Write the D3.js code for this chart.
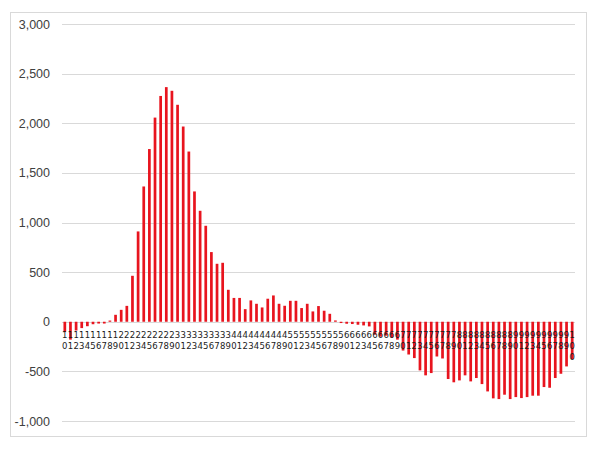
<!DOCTYPE html>
<html><head><meta charset="utf-8">
<script src="https://cdn.jsdelivr.net/npm/d3@7"></script>
<style>body{margin:0;background:#fff}svg{display:block}</style>
</head><body>
<svg id="c" width="600" height="450"></svg>
<script>
const categories = [10,11,12,13,14,15,16,17,18,19,20,21,22,23,24,25,26,27,28,29,30,31,32,33,34,35,36,37,38,39,40,41,42,43,44,45,46,47,48,49,50,51,52,53,54,55,56,57,58,59,60,61,62,63,64,65,66,67,68,69,70,71,72,73,74,75,76,77,78,79,80,81,82,83,84,85,86,87,88,89,90,91,92,93,94,95,96,97,98,99,100];
const values = [-104,-180,-88,-64,-45,-25,-18,-18,12,70,120,160,463,910,1363,1740,2057,2275,2364,2327,2186,1967,1715,1313,1118,967,702,584,594,322,240,240,127,215,181,144,232,265,181,161,211,211,138,181,104,158,111,80,13,-13,-20,-23,-30,-37,-47,-130,-150,-140,-160,-180,-290,-330,-366,-490,-540,-517,-350,-370,-577,-610,-591,-540,-601,-567,-628,-702,-772,-779,-735,-779,-759,-769,-759,-745,-745,-658,-665,-567,-524,-450,-376];
const yTicks = [-1000,-500,0,500,1000,1500,2000,2500,3000];

const svg = d3.select("#c");
svg.append("rect").attr("x",10.5).attr("y",12.5).attr("width",576).attr("height",424)
  .attr("fill","#fff").attr("stroke","#d9d9d9");

const x = d3.scaleBand().domain(categories).range([62,575]).paddingInner(0.52).paddingOuter(0.26);
const y = d3.scaleLinear().domain([-1000,3000]).range([421,24]);

// gridlines
svg.append("g").selectAll("line").data(yTicks).join("line")
  .attr("x1",62).attr("x2",575)
  .attr("y1",d=>Math.round(y(d))+0.5).attr("y2",d=>Math.round(y(d))+0.5)
  .attr("stroke","#d9d9d9").attr("stroke-width",1);

// y axis labels
const fmt = d3.format(",");
const yAxis = d3.axisLeft(y).tickValues(yTicks).tickSize(0).tickPadding(0)
  .tickFormat(d=>fmt(d).replace("\u2212","-"));
const ya = svg.append("g").attr("transform","translate(50,0)").call(yAxis);
ya.select(".domain").remove();
ya.selectAll("text").attr("font-family","Liberation Sans, Arial, sans-serif")
  .attr("font-size","12.5px").attr("fill","#404040");

// bars
svg.append("g").selectAll("rect").data(categories).join("rect")
  .attr("x",(d)=>x(d))
  .attr("width",x.bandwidth())
  .attr("y",(d,i)=>Math.min(y(values[i]),y(0)))
  .attr("height",(d,i)=>Math.abs(y(values[i])-y(0)))
  .attr("fill","#e8141e");

// category labels (wrapped, one digit per line)
const lg = svg.append("g").attr("font-family","DejaVu Sans, sans-serif")
  .attr("font-size","8.5px").attr("fill","#1a1a1a").attr("text-anchor","middle");
categories.forEach(c=>{
  const s = String(c);
  const cx = x(c)+x.bandwidth()/2;
  const t = lg.append("text").attr("x",cx).attr("y",338);
  for(let k=0;k<s.length;k++){
    t.append("tspan").attr("x",cx).attr("dy",k===0?0:10.8).text(s[k]);
  }
});
</script>
</body></html>
